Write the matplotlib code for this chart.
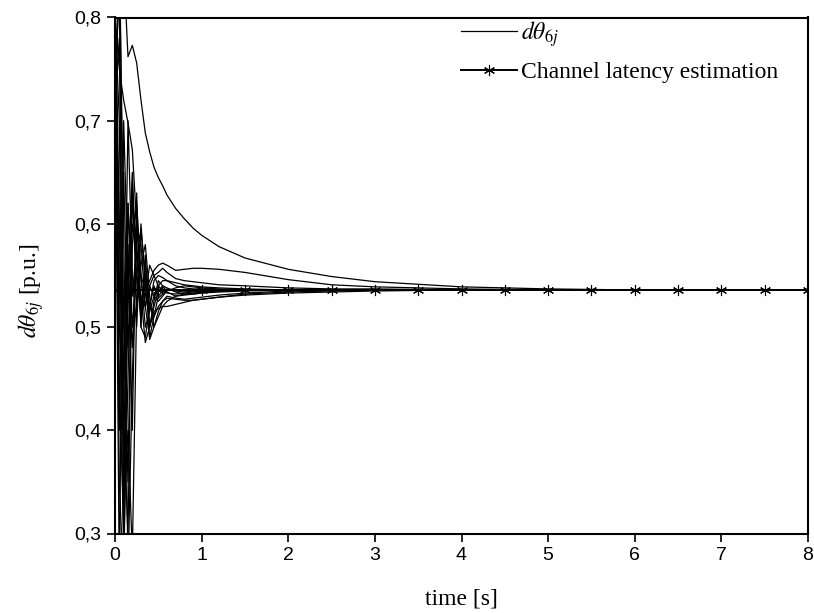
import matplotlib
matplotlib.use("Agg")
import matplotlib.pyplot as plt
from matplotlib.ticker import FuncFormatter

plt.rcParams['mathtext.fontset'] = 'stix'

# time samples (s)
t = [0, 0.05, 0.1, 0.15, 0.2, 0.25, 0.3, 0.35, 0.4, 0.45, 0.5, 0.55, 0.6,
     0.7, 0.8, 0.9, 1.0, 1.2, 1.5, 2.0, 2.5, 3.0, 4.0, 5.0, 6.0, 8.0]

# d_theta_6j curves (p.u.)
curve_a = [0.90, 0.95, 0.85, 0.762, 0.773, 0.756, 0.72, 0.688, 0.67, 0.655, 0.645, 0.637, 0.628,
           0.615, 0.605, 0.596, 0.589, 0.578, 0.567, 0.556, 0.549, 0.544, 0.539, 0.537, 0.536, 0.536]
curve_b = [0.80, 0.75, 0.72, 0.698, 0.672, 0.60, 0.55, 0.535, 0.545, 0.555, 0.560, 0.562, 0.560,
           0.555, 0.556, 0.557, 0.557, 0.556, 0.553, 0.546, 0.541, 0.539, 0.537, 0.536, 0.536, 0.536]
curve_c = [0.84, 0.60, 0.36, 0.52, 0.63, 0.57, 0.53, 0.52, 0.54, 0.55, 0.553, 0.557, 0.553,
           0.547, 0.545, 0.544, 0.543, 0.541, 0.540, 0.538, 0.537, 0.537, 0.536, 0.536, 0.536, 0.536]
curve_d = [0.80, 0.55, 0.28, 0.45, 0.62, 0.58, 0.50, 0.49, 0.52, 0.545, 0.55, 0.548, 0.545,
           0.54, 0.538, 0.537, 0.537, 0.536, 0.536, 0.536, 0.536, 0.536, 0.536, 0.536, 0.536, 0.536]
curve_e = [0.82, 0.35, 0.25, 0.55, 0.65, 0.55, 0.51, 0.53, 0.56, 0.55, 0.54, 0.535, 0.533,
           0.532, 0.533, 0.534, 0.535, 0.535, 0.536, 0.536, 0.536, 0.536, 0.536, 0.536, 0.536, 0.536]
curve_f = [0.75, 0.82, 0.40, 0.30, 0.58, 0.62, 0.55, 0.50, 0.515, 0.53, 0.54, 0.545, 0.545,
           0.543, 0.541, 0.540, 0.539, 0.538, 0.537, 0.536, 0.536, 0.536, 0.536, 0.536, 0.536, 0.536]
curve_g = [0.70, 0.85, 0.60, 0.26, 0.45, 0.60, 0.58, 0.52, 0.49, 0.51, 0.53, 0.535, 0.537,
           0.536, 0.535, 0.535, 0.535, 0.535, 0.536, 0.536, 0.536, 0.536, 0.536, 0.536, 0.536, 0.536]
curve_h = [0.78, 0.50, 0.42, 0.70, 0.55, 0.50, 0.595, 0.55, 0.50, 0.52, 0.535, 0.54, 0.538,
           0.534, 0.532, 0.532, 0.533, 0.534, 0.535, 0.536, 0.536, 0.536, 0.536, 0.536, 0.536, 0.536]
curve_i = [0.80, 0.70, 0.33, 0.40, 0.28, 0.52, 0.60, 0.54, 0.52, 0.51, 0.52, 0.525, 0.528,
           0.527, 0.526, 0.526, 0.527, 0.529, 0.531, 0.533, 0.534, 0.535, 0.536, 0.536, 0.536, 0.536]
curve_j = [0.76, 0.60, 0.45, 0.62, 0.50, 0.55, 0.53, 0.485, 0.50, 0.515, 0.518, 0.52, 0.52,
           0.522, 0.524, 0.526, 0.527, 0.529, 0.532, 0.534, 0.535, 0.536, 0.536, 0.536, 0.536, 0.536]
curve_k = [0.79, 0.40, 0.65, 0.48, 0.60, 0.57, 0.52, 0.55, 0.488, 0.50, 0.515, 0.525, 0.53,
           0.528, 0.527, 0.528, 0.529, 0.531, 0.533, 0.535, 0.536, 0.536, 0.536, 0.536, 0.536, 0.536]
curve_l = [0.81, 0.90, 0.50, 0.35, 0.64, 0.52, 0.56, 0.58, 0.53, 0.50, 0.51, 0.52, 0.525,
           0.53, 0.532, 0.533, 0.534, 0.535, 0.536, 0.536, 0.536, 0.536, 0.536, 0.536, 0.536, 0.536]
curve_m = [0.77, 0.25, 0.70, 0.55, 0.48, 0.60, 0.545, 0.52, 0.54, 0.53, 0.525, 0.53, 0.535,
           0.538, 0.540, 0.539, 0.538, 0.537, 0.536, 0.536, 0.536, 0.536, 0.536, 0.536, 0.536, 0.536]
curve_n = [0.83, 0.45, 0.30, 0.62, 0.53, 0.58, 0.51, 0.56, 0.52, 0.54, 0.528, 0.532, 0.536,
           0.535, 0.534, 0.535, 0.535, 0.536, 0.536, 0.536, 0.536, 0.536, 0.536, 0.536, 0.536, 0.536]
curve_o = [0.72, 0.78, 0.38, 0.58, 0.40, 0.63, 0.50, 0.57, 0.50, 0.525, 0.545, 0.54, 0.534,
           0.53, 0.531, 0.532, 0.533, 0.535, 0.536, 0.536, 0.536, 0.536, 0.536, 0.536, 0.536, 0.536]
curves = [curve_a, curve_b, curve_c, curve_d, curve_e, curve_f, curve_g,
          curve_h, curve_i, curve_j, curve_k, curve_l, curve_m, curve_n, curve_o]

# channel latency estimation
est_t = [0, 0.5, 1, 1.5, 2, 2.5, 3, 3.5, 4, 4.5, 5, 5.5, 6, 6.5, 7, 7.5, 8]
est_v = [0.536] * len(est_t)

xticks = [0, 1, 2, 3, 4, 5, 6, 7, 8]
yticks = [0.3, 0.4, 0.5, 0.6, 0.7, 0.8]

fig = plt.figure(figsize=(8.14, 6.13), dpi=100)
ax = fig.add_axes([115/814, 1 - 533.5/613, (808 - 115)/814, (533.5 - 17.5)/613])

for i, c in enumerate(curves):
    ax.plot(t, c, color='black', lw=0.9,
            label=r'$d\theta_{6j}$' if i == 0 else None)

ax.plot(est_t, est_v, color='black', lw=1.4, marker=(6, 2, 0), markersize=8,
        markeredgewidth=0.8, label='Channel latency estimation')

ax.set_xlim(0, 8)
ax.set_ylim(0.3, 0.8)
ax.set_xticks(xticks)
ax.set_yticks(yticks)
ax.yaxis.set_major_formatter(FuncFormatter(lambda v, p: f"{v:.1f}".replace('.', ',')))
ax.tick_params(direction='out', length=6, width=1.2, labelsize=14, pad=4)
for lab in ax.get_xticklabels() + ax.get_yticklabels():
    lab.set_fontfamily('Liberation Sans')
for s in ax.spines.values():
    s.set_linewidth(1.5)

ax.set_xlabel('time [s]', fontfamily='Liberation Serif', fontsize=17, labelpad=17)
ax.set_ylabel(r'$d\theta_{6j}$ [p.u.]', fontfamily='Liberation Serif', fontsize=17)
ax.yaxis.set_label_coords(-0.1, 0.47)

leg = ax.legend(loc='upper left', bbox_to_anchor=(0.479, 1.025),
                frameon=False, handlelength=2.35, handletextpad=0.2,
                labelspacing=0.55, borderaxespad=0.2,
                prop={'family': 'Liberation Serif', 'size': 17})

fig.savefig('out.png', dpi=100)
